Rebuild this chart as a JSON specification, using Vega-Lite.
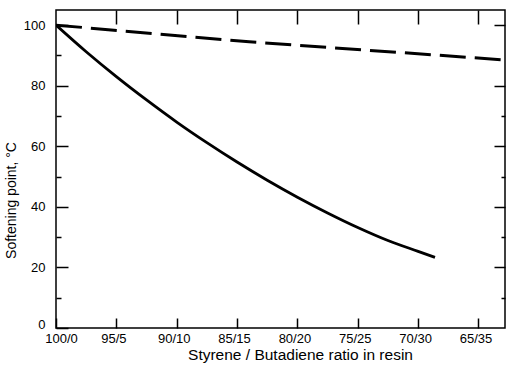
{
  "$schema": "https://vega.github.io/schema/vega-lite/v6.json",
  "width": 449,
  "height": 318,
  "autosize": {"type": "none"},
  "padding": {"left": 56, "top": 10, "right": 2, "bottom": 45},
  "background": "white",
  "config": {
    "view": {"stroke": "black", "strokeWidth": 1.5},
    "axis": {
      "domain": false,
      "grid": false,
      "labelFlush": false,
      "labelOverlap": false,
      "tickColor": "black",
      "tickWidth": 1.5,
      "labelColor": "black",
      "titleColor": "black",
      "labelFont": "Liberation Sans",
      "titleFont": "Liberation Sans",
      "labelFontSize": 13,
      "titleFontWeight": "normal",
      "titleFontSize": 15
    }
  },
  "datasets": {
    "solid": [
      {"b": 0, "t": 100},
      {"b": 2.5, "t": 91.2},
      {"b": 5, "t": 83},
      {"b": 7.5, "t": 75.3},
      {"b": 10, "t": 68},
      {"b": 12.5, "t": 61.2},
      {"b": 15, "t": 54.8},
      {"b": 17.5, "t": 48.8},
      {"b": 20, "t": 43.2},
      {"b": 22.5, "t": 38},
      {"b": 25, "t": 33.2},
      {"b": 27.5, "t": 28.9},
      {"b": 30, "t": 25.3},
      {"b": 31.4, "t": 23.3}
    ],
    "dashed": [
      {"b": 0, "t": 100},
      {"b": 16, "t": 94.5},
      {"b": 37.2, "t": 88.5}
    ]
  },
  "layer": [
    {
      "data": {"name": "solid"},
      "mark": {"type": "line", "color": "black", "strokeWidth": 2.8, "interpolate": "monotone", "clip": true},
      "encoding": {
        "x": {
          "field": "b", "type": "quantitative",
          "scale": {"domain": [0, 37.2], "nice": false, "zero": false},
          "axis": {
            "orient": "bottom",
            "values": [0, 5, 10, 15, 20, 25, 30, 35],
            "labelExpr": "(100 - datum.value) + '/' + datum.value",
            "labelOffset": {"expr": "datum.value == 0 ? 5 : -3"},
            "tickSize": -10,
            "labelPadding": 14,
            "labelFontSize": 13,
            "title": "Styrene / Butadiene ratio in resin",
            "titleFontSize": 15.5,
            "titlePadding": 2,
            "titleX": 244
          }
        },
        "y": {
          "field": "t", "type": "quantitative",
          "scale": {"domain": [0, 105], "nice": false},
          "axis": {
            "orient": "left",
            "values": [0, 20, 40, 60, 80, 100],
            "labelOffset": {"expr": "datum.value == 0 ? -4 : 0"},
            "tickSize": -12,
            "labelPadding": 23,
            "title": "Softening point, °C",
            "titleFontSize": 14,
            "titleX": -38,
            "titleY": 190
          }
        }
      }
    },
    {
      "data": {"name": "dashed"},
      "mark": {"type": "line", "color": "black", "strokeWidth": 3, "strokeDash": [26, 9], "clip": true},
      "encoding": {
        "x": {
          "field": "b", "type": "quantitative",
          "axis": {
            "orient": "top",
            "values": [5, 10, 15, 20, 25, 30, 35],
            "labels": false,
            "tickSize": -14,
            "title": null
          }
        },
        "y": {
          "field": "t", "type": "quantitative",
          "axis": {
            "orient": "right",
            "values": [20, 40, 60, 80, 100],
            "labels": false,
            "tickSize": -11,
            "title": null
          }
        }
      }
    },
    {
      "data": {"name": "dashed"},
      "mark": {"type": "line", "opacity": 0},
      "encoding": {
        "x": {"field": "b", "type": "quantitative", "axis": null},
        "y": {
          "field": "t", "type": "quantitative",
          "axis": {
            "orient": "left",
            "values": [10, 30, 50, 70, 90],
            "labels": false,
            "tickSize": -5,
            "title": null
          }
        }
      }
    },
    {
      "data": {"name": "dashed"},
      "mark": {"type": "line", "opacity": 0},
      "encoding": {
        "x": {"field": "b", "type": "quantitative", "axis": null},
        "y": {
          "field": "t", "type": "quantitative",
          "axis": {
            "orient": "right",
            "values": [10, 30, 50, 70],
            "labels": false,
            "tickSize": -4,
            "title": null
          }
        }
      }
    }
  ],
  "resolve": {"axis": {"x": "independent", "y": "independent"}}
}
